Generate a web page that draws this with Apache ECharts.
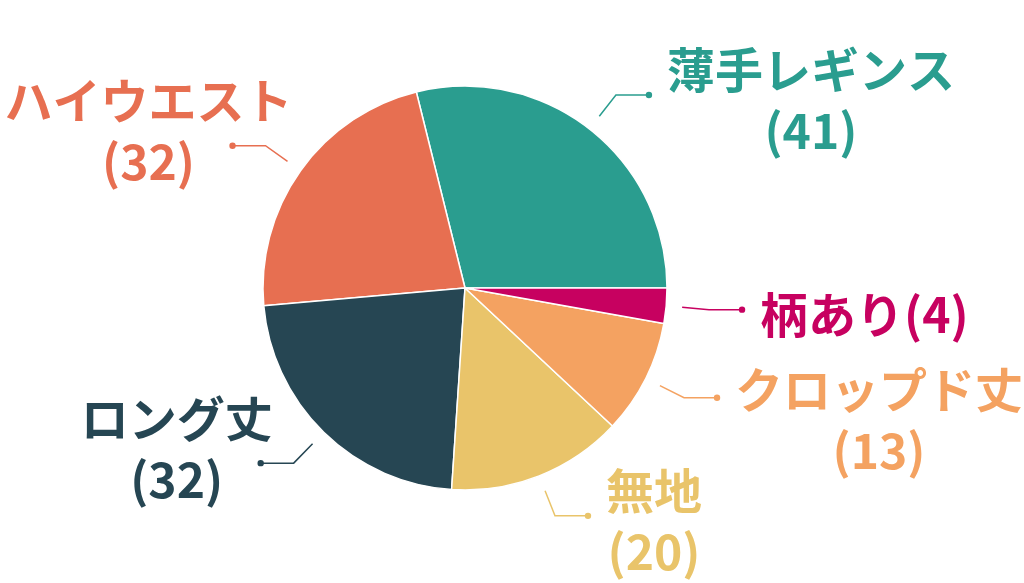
<!DOCTYPE html>
<html><head><meta charset="utf-8">
<script src="https://cdn.jsdelivr.net/npm/echarts@6/dist/echarts.min.js"></script>
<style>html,body{margin:0;padding:0;background:#fff}#c{width:1024px;height:583px}</style>
</head><body><div id="c"></div>
<script>
const categories = ['薄手レギンス', 'ハイウエスト', 'ロング丈', '無地', 'クロップド丈', '柄あり'];
const values = [41, 32, 32, 20, 13, 4];
const colors = ['#2a9d8f', '#e76f51', '#264653', '#e9c46a', '#f4a261', '#c70160'];
const singleLine = ['柄あり'];

const CX = 465, CY = 288, R = 202, GAP = 16;
const FONT = '"Noto Sans CJK JP", sans-serif';
// extra vertical nudge of a label block relative to its leader line (style)
const LABEL_NUDGE_Y = { 'クロップド丈': 17 };
const ends = [];

const data = categories.map((name, i) => ({
  name: name,
  value: values[i],
  itemStyle: { color: colors[i] },
  label: Object.assign({ color: colors[i] },
    singleLine.indexOf(name) >= 0 ? { formatter: '{n|{b}({c})}' } : {}),
  labelLine: { lineStyle: { color: colors[i] } }
}));

const chart = echarts.init(document.getElementById('c'), null, { renderer: 'canvas' });
chart.setOption({
  animation: false,
  backgroundColor: '#ffffff',
  series: [{
    type: 'pie',
    center: [CX, CY],
    radius: R,
    startAngle: 0,
    clockwise: false,
    bleedMargin: 0,
    avoidLabelOverlap: false,
    minShowLabelAngle: 0,
    itemStyle: { borderColor: '#ffffff', borderWidth: 1.5 },
    label: {
      show: true,
      position: 'outside',
      overflow: 'none',
      distanceToLabelLine: 13,
      formatter: '{n|{b}}\n{n|({c})}',
      fontFamily: FONT,
      fontWeight: 'bold',
      fontSize: 48,
      lineHeight: 61,
      rich: {
        n: { align: 'center', fontFamily: FONT, fontWeight: 'bold', fontSize: 48, lineHeight: 61 }
      }
    },
    labelLine: { show: true, length: 43, length2: 33, lineStyle: { width: 1.5 } },
    labelLayout: function (p) {
      const pts = p.labelLinePoints;
      if (!pts || pts.length < 3) return {};
      const b = pts[1], c = pts[2];
      const dx = b[0] - CX, dy = b[1] - CY, L = Math.hypot(dx, dy);
      const a = [CX + dx / L * (R + GAP), CY + dy / L * (R + GAP)];
      ends[p.dataIndex] = [c[0], c[1]];
      const right = c[0] >= b[0];
      const nudge = LABEL_NUDGE_Y[categories[p.dataIndex]] || 0;
      return {
        labelLinePoints: [a, [b[0], b[1]], [c[0], c[1]]],
        x: right ? c[0] + 18 : c[0] - 84,
        y: (right ? c[1] + 5 : c[1] - 14) + nudge,
        align: right ? 'left' : 'center',
        verticalAlign: 'middle'
      };
    },
    data: data
  }]
});

function drawDots() {
  const g = [];
  ends.forEach((e, i) => {
    if (!e) return;
    g.push({ type: 'circle', id: 'dot' + i, shape: { cx: e[0], cy: e[1], r: 3.2 }, style: { fill: colors[i] }, z: 10 });
  });
  chart.setOption({ graphic: g });
}
drawDots();
</script>
</body></html>
